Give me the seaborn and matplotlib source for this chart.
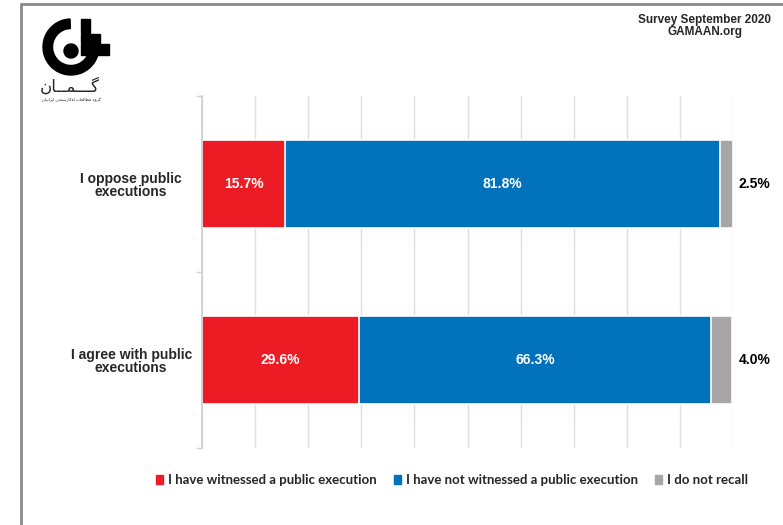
import numpy as np
import pandas as pd
import matplotlib
matplotlib.use("Agg")
import matplotlib.pyplot as plt
import matplotlib.patches as mpatches
from matplotlib.lines import Line2D
import seaborn as sns

# Chart data
groups = ["I oppose public\nexecutions", "I agree with public\nexecutions"]
witnessed = [15.7, 29.6]
not_witnessed = [81.8, 66.3]
not_recall = [2.5, 4.0]
series_names = ["I have witnessed a public execution",
                "I have not witnessed a public execution",
                "I do not recall"]
colors = ["#ed1c24", "#0072bc", "#a7a5a6"]

df = pd.DataFrame({"group": groups, "w": witnessed, "nw": not_witnessed, "nr": not_recall})
df["c1"] = df["w"]
df["c2"] = df["w"] + df["nw"]
df["c3"] = df["w"] + df["nw"] + df["nr"]

sns.set_theme(style="white")
plt.rcParams["font.family"] = ["Liberation Sans", "DejaVu Sans"]

fig = plt.figure(figsize=(7.83, 5.25), dpi=100)
ax = fig.add_axes([202 / 783, 1 - 448 / 525, 531 / 783, 352 / 525])

# stacked bars drawn as overlaid cumulative totals
for col, color in zip(["c3", "c2", "c1"], colors[::-1]):
    sns.barplot(data=df, x=col, y="group", orient="h", color=color, width=0.5,
                saturation=1, edgecolor="white", linewidth=1.2, ax=ax)

ax.set_xlim(0, 100)
ax.set_ylim(1.5, -0.5)
ax.set_xlabel("")
ax.set_ylabel("")
ax.set_xticks(np.arange(0, 101, 10))
ax.set_xticklabels([])
ax.tick_params(axis="x", length=0)
ax.grid(axis="x", color="#dedede", linewidth=1)
ax.set_axisbelow(True)
for s in ["top", "right", "bottom"]:
    ax.spines[s].set_visible(False)
ax.spines["left"].set_color("#d0d0d0")
ax.set_yticks([0, 1])
ax.set_yticklabels(groups, fontsize=10, fontweight="bold", ha="center", linespacing=0.95)
ax.tick_params(axis="y", length=0, pad=51)
ax.set_yticks([-0.5, 0.5, 1.5], minor=True)
ax.tick_params(axis="y", which="minor", left=True, length=4, color="#d0d0d0", width=1)

# value labels
for i in range(len(groups)):
    ax.text(witnessed[i] / 2, i, f"{witnessed[i]:.1f}%", color="white",
            ha="center", va="center", fontsize=10, fontweight="bold")
    ax.text(witnessed[i] + not_witnessed[i] / 2, i, f"{not_witnessed[i]:.1f}%",
            color="white", ha="center", va="center", fontsize=10, fontweight="bold")
    ax.text(101, i, f"{not_recall[i]:.1f}%", color="black",
            ha="left", va="center", fontsize=10, fontweight="bold", clip_on=False)

# legend
handles = [mpatches.Patch(color=c, label=n) for c, n in zip(colors, series_names)]
fig.legend(handles=handles, loc="center", bbox_to_anchor=(452 / 783, 1 - 480 / 525),
           ncol=3, frameon=False, handlelength=0.55, handleheight=0.6,
           handletextpad=0.35, columnspacing=1.3,
           prop={"family": "Lato", "weight": "bold", "size": 9.5})

# source text
fig.text(705 / 783, 1 - 26 / 525, "Survey September 2020\nGAMAAN.org", ha="center",
         va="center", fontsize=8.5, fontweight="bold", linespacing=0.95)

# frame lines (left and top)
fig.add_artist(Line2D([21 / 783, 21 / 783], [0, 1 - 4 / 525], transform=fig.transFigure,
                      color="#8a8a8a", linewidth=2))
fig.add_artist(Line2D([21 / 783, 1], [1 - 4 / 525, 1 - 4 / 525], transform=fig.transFigure,
                      color="#8a8a8a", linewidth=2))

# logo (approximation), drawn in pixel coordinates with y pointing up
lax = fig.add_axes([0, 0, 1, 1])
lax.set_xlim(0, 783)
lax.set_ylim(0, 525)
lax.axis("off")
H = 525
lax.add_patch(mpatches.Wedge((71, H - 47), 28, 92, 360, width=9.5, color="black"))
lax.add_patch(mpatches.Circle((71, H - 51), 7, color="black"))
lax.add_patch(mpatches.Rectangle((81, H - 33), 9, 14, color="black"))
lax.add_patch(mpatches.Rectangle((81, H - 43), 19, 9, color="black"))
lax.add_patch(mpatches.Rectangle((81, H - 55), 28, 11, color="black"))
lax.text(70, H - 87, "\uFEE5\uFE8E\u0640\u0640\uFEE4\u0640\u0640\u0640\uFB94",
         ha="center", va="center", fontsize=12, family="DejaVu Sans")
lax.text(71, H - 100, "\uFEE5\uFE8E\uFBFF\uFEE7\uFE8D\uFEAE\uFBFE\uFE8D "
         "\uFBFD\uFEA0\uFEE8\uFEB3\uFEAD\uFE8E\uFB90\uFED3\uFE8D "
         "\uFE95\uFE8E\uFECC\uFEDF\uFE8E\uFEC4\uFEE3 "
         "\uFEE9\uFEED\uFEAE\uFB94",
         ha="center", va="center", fontsize=3, family="DejaVu Sans")

fig.savefig("out.png", dpi=100)
